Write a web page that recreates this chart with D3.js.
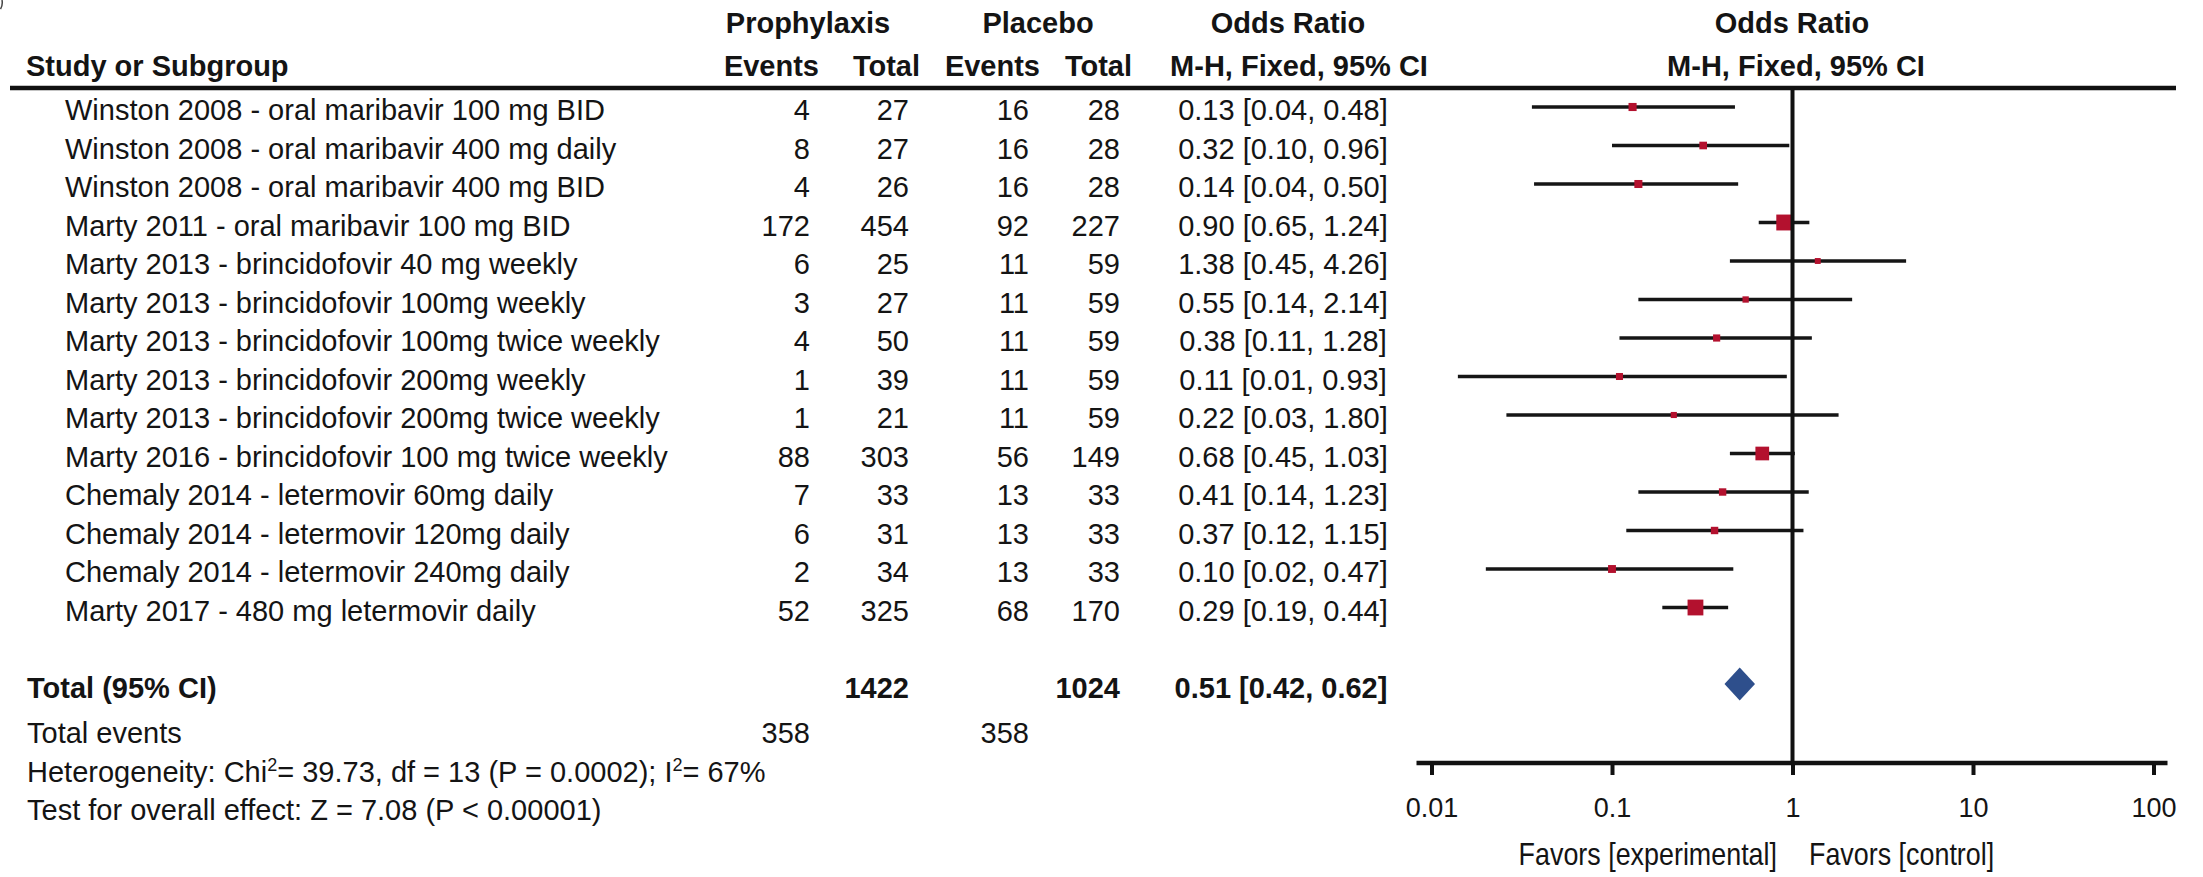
<!DOCTYPE html>
<html><head><meta charset="utf-8">
<script src="https://cdn.jsdelivr.net/npm/d3@7"></script>
<style>
html,body{margin:0;padding:0;background:#fff;}
svg{display:block;}
text{font-family:"Liberation Sans", Arial, Helvetica, sans-serif; fill:#141414;}
</style></head><body>
<svg id="chart" width="2203" height="877"></svg>
<script>
// ---------- DATA ----------
const studies = [
  "Winston 2008 - oral maribavir 100 mg BID",
  "Winston 2008 - oral maribavir 400 mg daily",
  "Winston 2008 - oral maribavir 400 mg BID",
  "Marty 2011 - oral maribavir 100 mg BID",
  "Marty 2013 - brincidofovir 40 mg weekly",
  "Marty 2013 - brincidofovir 100mg weekly",
  "Marty 2013 - brincidofovir 100mg twice weekly",
  "Marty 2013 - brincidofovir 200mg weekly",
  "Marty 2013 - brincidofovir 200mg twice weekly",
  "Marty 2016 - brincidofovir 100 mg twice weekly",
  "Chemaly 2014 - letermovir 60mg daily",
  "Chemaly 2014 - letermovir 120mg daily",
  "Chemaly 2014 - letermovir 240mg daily",
  "Marty 2017 - 480 mg letermovir daily"
];
const proEvents = [4, 8, 4, 172, 6, 3, 4, 1, 1, 88, 7, 6, 2, 52];
const proTotal  = [27, 27, 26, 454, 25, 27, 50, 39, 21, 303, 33, 31, 34, 325];
const plaEvents = [16, 16, 16, 92, 11, 11, 11, 11, 11, 56, 13, 13, 13, 68];
const plaTotal  = [28, 28, 28, 227, 59, 59, 59, 59, 59, 149, 33, 33, 33, 170];
const oddsRatio = [0.13, 0.32, 0.14, 0.90, 1.38, 0.55, 0.38, 0.11, 0.22, 0.68, 0.41, 0.37, 0.10, 0.29];
const ciLow     = [0.036, 0.10, 0.037, 0.65, 0.45, 0.14, 0.11, 0.014, 0.026, 0.45, 0.14, 0.12, 0.02, 0.19];
const ciHigh    = [0.48, 0.96, 0.50, 1.24, 4.26, 2.14, 1.28, 0.93, 1.80, 1.03, 1.23, 1.15, 0.47, 0.44];
const weightPct = [4.3, 3.6, 4.2, 24.6, 1.6, 2.0, 3.0, 2.8, 1.8, 17.2, 3.3, 3.3, 4.0, 24.3];

const totalLabel = "Total (95% CI)";
const totalPro = 1422, totalPla = 1024;
const totalOR = 0.51, totalLow = 0.42, totalHigh = 0.62;
const eventsLabel = "Total events";
const eventsPro = 358, eventsPla = 358;
const hetParts = ["Heterogeneity: Chi", "2", "= 39.73, df = 13 (P = 0.0002); I", "2", "= 67%"];
const testText = "Test for overall effect: Z = 7.08 (P < 0.00001)";

const header1 = [
  {t: "Prophylaxis", col: "pro"},
  {t: "Placebo", col: "pla"},
  {t: "Odds Ratio", col: "orText"},
  {t: "Odds Ratio", col: "plot"}
];
const header2 = [
  {t: "Study or Subgroup", col: "study"},
  {t: "Events", col: "ev1"},
  {t: "Total", col: "tot1"},
  {t: "Events", col: "ev2"},
  {t: "Total", col: "tot2"},
  {t: "M-H, Fixed, 95% CI", col: "orText2"},
  {t: "M-H, Fixed, 95% CI", col: "plot2"}
];
const tickValues = [0.01, 0.1, 1, 10, 100];
const tickLabels = ["0.01", "0.1", "1", "10", "100"];
const favorsLeft = "Favors [experimental]";
const favorsRight = "Favors [control]";

// ---------- LAYOUT ----------
const W = 2203, H = 877, FS = 29;
const svg = d3.select("#chart");
svg.append("rect").attr("width", W).attr("height", H).attr("fill", "#fff");

const colPos = {
  study: {x: 26, anchor: "start"},
  pro: {x: 808, anchor: "middle"},
  pla: {x: 1038, anchor: "middle"},
  orText: {x: 1288, anchor: "middle"},
  plot: {x: 1792, anchor: "middle"},
  ev1: {x: 819, anchor: "end"},
  tot1: {x: 920, anchor: "end"},
  ev2: {x: 1040, anchor: "end"},
  tot2: {x: 1132, anchor: "end"},
  orText2: {x: 1299, anchor: "middle"},
  plot2: {x: 1796, anchor: "middle"}
};
const numRight = {ev1: 810, tot1: 909, ev2: 1029, tot2: 1120};
const labelX = 65, orTextX = 1283;

const x = d3.scaleLog().domain([0.01, 100]).range([1431.5, 2153.5]);
const yRow = d3.scaleLinear().domain([0, 1]).range([107, 145.5]);
const size = d3.scaleSqrt().domain([0, 25]).range([2.5, 16]);
const fmt = v => v.toFixed(2);

const topLineY = 88, axisY = 763;

// small corner artifact
svg.append("path").attr("d", "M0.5,9 Q3,5 2,0").attr("fill", "none").attr("stroke", "#444").attr("stroke-width", 1.5);

// headers
svg.selectAll("text.h1").data(header1).join("text")
  .attr("class", "h1")
  .attr("x", d => colPos[d.col].x).attr("y", 33)
  .attr("text-anchor", d => colPos[d.col].anchor)
  .attr("font-size", FS).attr("font-weight", "bold").text(d => d.t);
svg.selectAll("text.h2").data(header2).join("text")
  .attr("class", "h2")
  .attr("x", d => colPos[d.col].x).attr("y", 76)
  .attr("text-anchor", d => colPos[d.col].anchor)
  .attr("font-size", FS).attr("font-weight", "bold").text(d => d.t);

// top rule
svg.append("line").attr("x1", 10).attr("x2", 2176).attr("y1", topLineY).attr("y2", topLineY)
  .attr("stroke", "#111").attr("stroke-width", 4.5);

// rows
const rows = studies.map((s, i) => ({s, i, pe: proEvents[i], pt: proTotal[i], ce: plaEvents[i], ct: plaTotal[i],
  or: oddsRatio[i], lo: ciLow[i], hi: ciHigh[i], w: weightPct[i]}));

const gRows = svg.append("g");
const rowG = gRows.selectAll("g").data(rows).join("g");
rowG.append("text").attr("x", labelX).attr("y", d => yRow(d.i) + 13).attr("font-size", FS).text(d => d.s);
[["ev1", "pe"], ["tot1", "pt"], ["ev2", "ce"], ["tot2", "ct"]].forEach(([c, k]) => {
  rowG.append("text").attr("x", numRight[c]).attr("y", d => yRow(d.i) + 13)
    .attr("text-anchor", "end").attr("font-size", FS).text(d => d[k]);
});
rowG.append("text").attr("x", orTextX).attr("y", d => yRow(d.i) + 13)
  .attr("text-anchor", "middle").attr("font-size", FS)
  .text(d => `${fmt(d.or)} [${fmt(d.lo)}, ${fmt(d.hi)}]`);

// vertical line of no effect
svg.append("line").attr("x1", x(1)).attr("x2", x(1)).attr("y1", topLineY).attr("y2", axisY)
  .attr("stroke", "#111").attr("stroke-width", 4);

// CI lines
rowG.append("line")
  .attr("x1", d => x(d.lo)).attr("x2", d => x(d.hi))
  .attr("y1", d => yRow(d.i)).attr("y2", d => yRow(d.i))
  .attr("stroke", "#151515").attr("stroke-width", 3.5);
// squares
rowG.append("rect")
  .attr("x", d => x(d.or) - size(d.w) / 2).attr("y", d => yRow(d.i) - size(d.w) / 2)
  .attr("width", d => size(d.w)).attr("height", d => size(d.w))
  .attr("fill", "#b3112e");

// total row
const totY = yRow(15) - 0.5;
svg.append("text").attr("x", 27).attr("y", totY + 13.5).attr("font-size", FS).attr("font-weight", "bold").text(totalLabel);
svg.append("text").attr("x", numRight.tot1).attr("y", totY + 13.5).attr("text-anchor", "end").attr("font-size", FS).attr("font-weight", "bold").text(totalPro);
svg.append("text").attr("x", numRight.tot2).attr("y", totY + 13.5).attr("text-anchor", "end").attr("font-size", FS).attr("font-weight", "bold").text(totalPla);
svg.append("text").attr("x", orTextX - 2).attr("y", totY + 13.5).attr("text-anchor", "middle").attr("font-size", FS).attr("font-weight", "bold")
  .text(`${fmt(totalOR)} [${fmt(totalLow)}, ${fmt(totalHigh)}]`);
const dh = 16.5;
svg.append("path")
  .attr("d", d3.line()([[x(totalLow), totY], [x(totalOR), totY - dh], [x(totalHigh), totY], [x(totalOR), totY + dh]]) + "Z")
  .attr("fill", "#2e4f8c");

// total events
svg.append("text").attr("x", 27).attr("y", 743).attr("font-size", FS).text(eventsLabel);
svg.append("text").attr("x", numRight.ev1).attr("y", 743).attr("text-anchor", "end").attr("font-size", FS).text(eventsPro);
svg.append("text").attr("x", numRight.ev2).attr("y", 743).attr("text-anchor", "end").attr("font-size", FS).text(eventsPla);

// heterogeneity
const het = svg.append("text").attr("x", 27).attr("y", 782).attr("font-size", FS);
het.append("tspan").text(hetParts[0]);
het.append("tspan").attr("font-size", 18).attr("dy", -11).text(hetParts[1]);
het.append("tspan").attr("dy", 11).text(hetParts[2]);
het.append("tspan").attr("font-size", 18).attr("dy", -11).text(hetParts[3]);
het.append("tspan").attr("dy", 11).text(hetParts[4]);

svg.append("text").attr("x", 27).attr("y", 820).attr("font-size", FS).text(testText);

// axis
const axis = d3.axisBottom(x).tickValues(tickValues).tickFormat((d, i) => tickLabels[i])
  .tickSize(12).tickPadding(23);
const gAx = svg.append("g").attr("transform", `translate(0,${axisY})`).call(axis);
gAx.select(".domain").remove();
gAx.selectAll(".tick line").attr("stroke", "#111").attr("stroke-width", 4);
gAx.selectAll(".tick text").attr("font-size", 27).attr("fill", "#222")
  .style("font-family", '"Liberation Sans", Arial, sans-serif');
svg.append("line").attr("x1", x(0.01) - 15).attr("x2", x(100) + 14).attr("y1", axisY).attr("y2", axisY)
  .attr("stroke", "#111").attr("stroke-width", 4.5);

// favors labels (condensed look)
svg.append("text").attr("transform", `translate(1777,865) scale(0.84,1)`).attr("text-anchor", "end")
  .attr("font-size", 32).attr("fill", "#222").text(favorsLeft);
svg.append("text").attr("transform", `translate(1809,865) scale(0.84,1)`).attr("text-anchor", "start")
  .attr("font-size", 32).attr("fill", "#222").text(favorsRight);
</script>
</body></html>
